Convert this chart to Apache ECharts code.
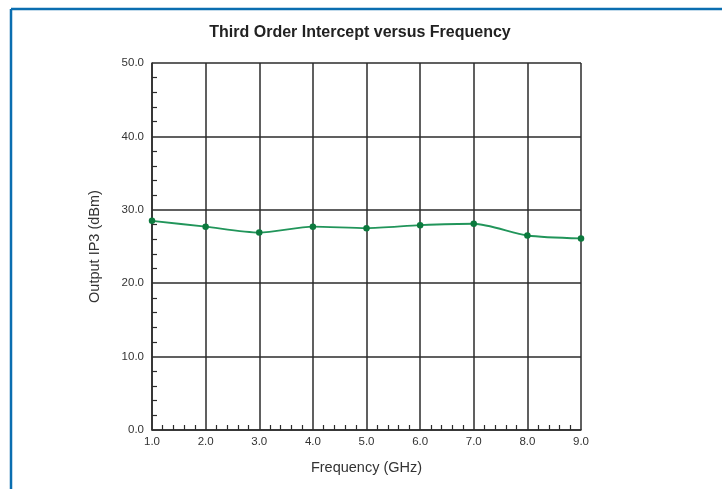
<!DOCTYPE html>
<html>
<head>
<meta charset="utf-8">
<script src="https://cdn.jsdelivr.net/npm/echarts@6/dist/echarts.min.js"></script>
<style>
  html, body { margin: 0; padding: 0; background: #fff; }
  #chart { width: 722px; height: 489px; }
</style>
</head>
<body>
<div id="chart"></div>
<script>
// data
const freqs = [1.0, 2.0, 3.0, 4.0, 5.0, 6.0, 7.0, 8.0, 9.0];
const ip3 = [28.5, 27.7, 26.9, 27.7, 27.5, 27.9, 28.1, 26.5, 26.1];

const chart = echarts.init(document.getElementById("chart"));

const axisText = { color: "#333", fontSize: 11.5, fontFamily: "Liberation Sans, Arial, sans-serif" };
const dark = "#2b2b2b";

const option = {
  animation: false,
  title: {
    text: "Third Order Intercept versus Frequency",
    left: 355,
    textAlign: "center",
    top: 20,
    textStyle: { fontSize: 16, fontWeight: "bold", color: "#222", fontFamily: "Liberation Sans, Arial, sans-serif" },
  },
  grid: { left: 152, right: 141, top: 63, bottom: 59 },
  xAxis: {
    type: "value",
    min: 1,
    max: 9,
    interval: 1,
    name: "Frequency (GHz)",
    nameLocation: "middle",
    nameGap: 30,
    nameTextStyle: { ...axisText, fontSize: 14.5 },
    axisLine: { lineStyle: { color: dark, width: 1.5 } },
    axisTick: { show: true, inside: true, length: 0 },
    minorTick: { show: true, splitNumber: 5, length: 5, lineStyle: { color: dark, width: 1.2 } },
    axisLabel: { ...axisText, margin: 6, formatter: (v) => v.toFixed(1) },
    splitLine: { show: true, lineStyle: { color: dark, width: 1.5 } },
  },
  yAxis: {
    type: "value",
    min: 0,
    max: 50,
    interval: 10,
    name: "Output IP3 (dBm)",
    nameLocation: "middle",
    nameGap: 50,
    nameTextStyle: { ...axisText, fontSize: 14.5 },
    axisLine: { lineStyle: { color: dark, width: 1.5 } },
    axisTick: { show: true, inside: true, length: 0 },
    minorTick: { show: true, splitNumber: 5, length: 5, lineStyle: { color: dark, width: 1.2 } },
    axisLabel: { ...axisText, margin: 8, formatter: (v) => v.toFixed(1) },
    splitLine: { show: true, lineStyle: { color: dark, width: 1.5 } },
  },
  series: [
    {
      type: "line",
      data: freqs.map((f, i) => [f, ip3[i]]),
      smooth: 0.25,
      symbol: "circle",
      symbolSize: 6.5,
      lineStyle: { color: "#21955a", width: 1.8 },
      itemStyle: { color: "#0c7a3e" },
    },
  ],
  graphic: [
    { type: "line", shape: { x1: 11, y1: 9, x2: 722, y2: 9 }, style: { stroke: "#0a6eb0", lineWidth: 2.5 } },
    { type: "line", shape: { x1: 11, y1: 9, x2: 11, y2: 489 }, style: { stroke: "#0a6eb0", lineWidth: 2.5 } },
  ],
};

chart.setOption(option);
</script>
</body>
</html>
